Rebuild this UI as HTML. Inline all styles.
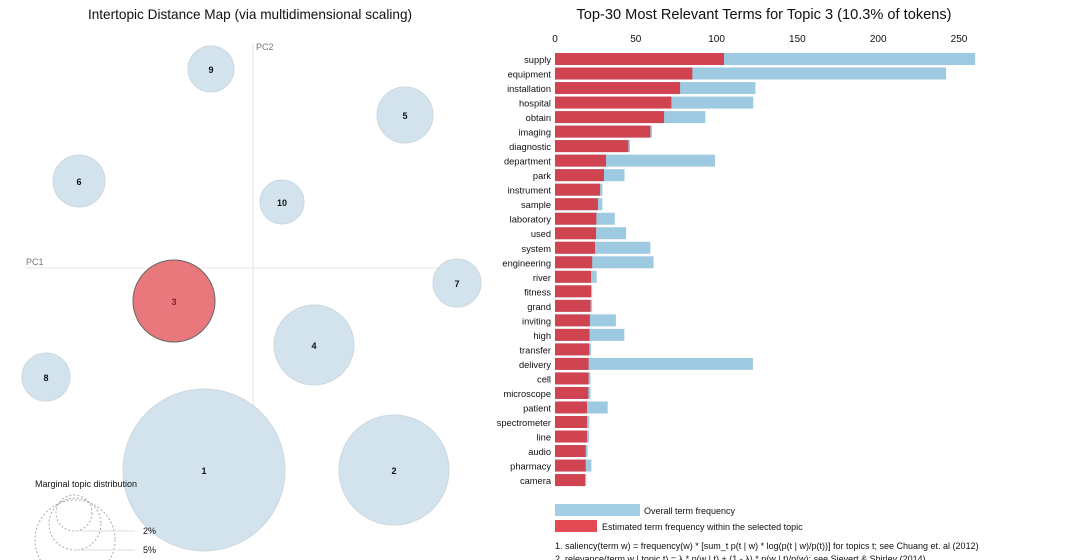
<!DOCTYPE html>
<html><head><meta charset="utf-8"><style>
html,body{margin:0;padding:0;background:#fff;width:1068px;height:560px;overflow:hidden;font-family:"Liberation Sans",sans-serif}
</style></head><body>
<svg id="s" width="1068" height="560" xmlns="http://www.w3.org/2000/svg">
<text x="250" y="19" text-anchor="middle" font-size="13.6" fill="#111">Intertopic Distance Map (via multidimensional scaling)</text>
<text x="764" y="19" text-anchor="middle" font-size="14.6" fill="#111">Top-30 Most Relevant Terms for Topic 3 (10.3% of tokens)</text>
<line x1="253" y1="43" x2="253" y2="495" stroke="#e6e6e6"/>
<line x1="26" y1="268" x2="478" y2="268" stroke="#e6e6e6"/>
<text x="256" y="50" font-size="9" fill="#777">PC2</text>
<text x="26" y="265" font-size="9" fill="#777">PC1</text>
<g id="topics"></g>
<text x="35" y="487" font-size="9" fill="#111">Marginal topic distribution</text>
<circle cx="75" cy="540" r="40" fill="none" stroke="#aaa" stroke-dasharray="2,2"/>
<circle cx="75" cy="524" r="26" fill="none" stroke="#aaa" stroke-dasharray="2,2"/>
<circle cx="74" cy="513" r="18" fill="none" stroke="#aaa" stroke-dasharray="2,2"/>
<line x1="75" y1="531" x2="135" y2="531" stroke="#ddd"/>
<line x1="75" y1="550" x2="135" y2="550" stroke="#ddd"/>
<text x="143" y="534" font-size="9" fill="#111">2%</text>
<text x="143" y="553" font-size="9" fill="#111">5%</text>
<g id="bars"></g>
<rect x="555" y="504" width="85" height="12" fill="#9ecae1" opacity="0.95"/>
<text x="644" y="514" font-size="9" fill="#111">Overall term frequency</text>
<rect x="555" y="520" width="42" height="12" fill="#e34a54"/>
<text x="602" y="530" font-size="9" fill="#111">Estimated term frequency within the selected topic</text>
<text x="555" y="549" font-size="9" fill="#111">1. saliency(term w) = frequency(w) * [sum_t p(t | w) * log(p(t | w)/p(t))] for topics t; see Chuang et. al (2012)</text>
<text x="555" y="562" font-size="9" fill="#111">2. relevance(term w | topic t) = λ * p(w | t) + (1 - λ) * p(w | t)/p(w); see Sievert &amp; Shirley (2014)</text>
</svg>
<script>
const terms=["supply","equipment","installation","hospital","obtain","imaging","diagnostic","department","park","instrument","sample","laboratory","used","system","engineering","river","fitness","grand","inviting","high","transfer","delivery","cell","microscope","patient","spectrometer","line","audio","pharmacy","camera"];
const overall=[260,242,124,122.7,93,60,46.4,99,43,29.3,29.3,37,44,59,61,25.8,23,23,37.7,42.9,22.3,122.5,22,22,32.6,21.2,21,20.2,22.5,19.4];
const topicFreq=[104.6,85,77.4,72,67.5,59,45.4,31.6,30.3,27.9,26.6,25.6,25.4,24.8,23,22.3,22.3,22,21.6,21.4,21.2,20.8,20.8,20.6,19.8,19.8,19.8,19,19,18.6];
const xTicks=[0,50,100,150,200,250];
const topicIds=["1","2","3","4","5","6","7","8","9","10"];
const topicX=[204,394,174,314,405,79,457,46,211,282];
const topicY=[470,470,301,345,115,181,283,377,69,202];
const topicR=[81,55,41,40,28,26,24,24,23,22];
const selected="3";
const NS="http://www.w3.org/2000/svg";
const xs=v=>555+v*1.616;
const ys=i=>53+i*14.52;
const bars=document.getElementById('bars');
function mk(t,a,p){const e=document.createElementNS(NS,t);for(const k in a)e.setAttribute(k,a[k]);p.appendChild(e);return e;}
xTicks.forEach(t=>{const e=mk('text',{x:xs(t),y:42,'text-anchor':'middle','font-size':10,fill:'#111'},bars);e.textContent=t;

});
terms.forEach((t,i)=>{
const b=mk('rect',{x:555,y:ys(i),width:xs(overall[i])-555,height:12,fill:'#9ecae1'},bars);


const r=mk('rect',{x:555,y:ys(i),width:xs(topicFreq[i])-555,height:12,fill:'#d04452'},bars);


const l=mk('text',{x:551,y:ys(i)+10,'text-anchor':'end','font-size':9.3,fill:'#111'},bars);l.textContent=t;


});
const tg=document.getElementById('topics');
topicIds.forEach((id,i)=>{
const sel=id===selected;
const c=mk('circle',{cx:topicX[i],cy:topicY[i],r:topicR[i],fill:sel?'#e8787c':'#d2e3ee',stroke:sel?'#666':'#ccd8e0','stroke-width':1},tg);


const t=mk('text',{x:topicX[i],y:topicY[i]+4,'text-anchor':'middle','font-size':9,'font-weight':'bold',fill:sel?'#8b1a22':'#111'},tg);t.textContent=id;


});
</script>
</body></html>
